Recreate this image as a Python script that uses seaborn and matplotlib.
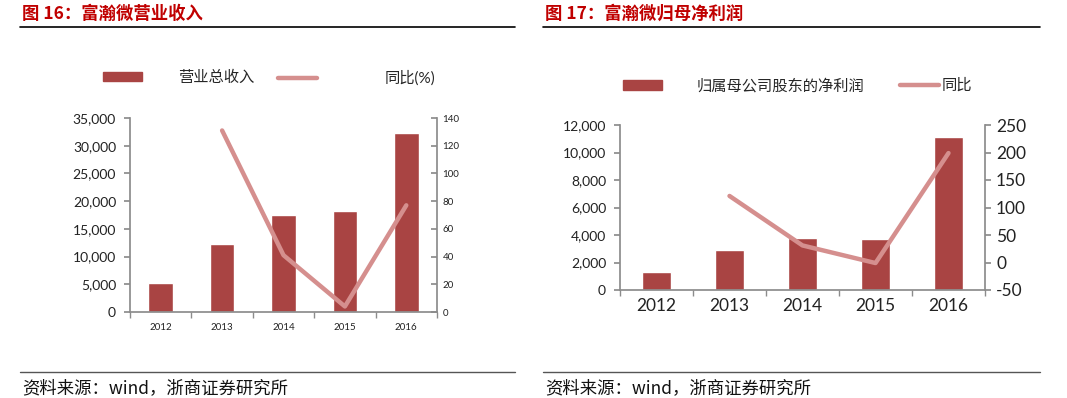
import numpy as np
import pandas as pd
import seaborn as sns
from matplotlib import pyplot as plt
from matplotlib.lines import Line2D
from matplotlib.patches import Patch
from matplotlib.ticker import FuncFormatter, FixedLocator

years = ["2012", "2013", "2014", "2015", "2016"]
revenue = [5250, 12300, 17500, 18150, 32250]
revenue_yoy = [np.nan, 131, 41, 4, 77]
net_profit = [1300, 2900, 3780, 3720, 11150]
profit_yoy = [np.nan, 121, 31, -1, 199]

BAR = "#A94443"
LINE = "#D58F8E"
GRAY = "#8C8C8C"
TITLE_RED = "#C00000"

sns.set_theme(style="white")
plt.rcParams["font.family"] = ["Lato", "Noto Sans CJK SC", "DejaVu Sans"]
plt.rcParams["axes.unicode_minus"] = False

W, H = 1067, 398
fig = plt.figure(figsize=(W / 100, H / 100), dpi=100)


def px_axes(x0, y0, x1, y1):
    return fig.add_axes([x0 / W, (H - y1) / H, (x1 - x0) / W, (y1 - y0) / H])


def style_axes(ax, ax2, lsize, rsize, xsize):
    n = len(years)
    ax.set_xlim(-0.5, n - 0.5)
    for s in ["top", "right"]:
        ax.spines[s].set_visible(False)
    for s in ["top", "left", "bottom"]:
        ax2.spines[s].set_visible(False)
    ax.spines["left"].set_color(GRAY)
    ax.spines["bottom"].set_color(GRAY)
    ax2.spines["right"].set_color(GRAY)
    ax.set_xticks(range(n))
    ax.set_xticklabels(years)
    ax.xaxis.set_minor_locator(FixedLocator(np.arange(-0.5, n, 1.0)))
    ax.tick_params(axis="x", which="major", length=0, labelsize=xsize, pad=8, colors="#222222")
    ax.tick_params(axis="x", which="minor", length=4, color=GRAY, direction="out", bottom=True)
    ax.tick_params(axis="y", length=4, color=GRAY, direction="out", left=True,
                   labelsize=lsize, labelcolor="#222222", pad=6)
    ax2.tick_params(axis="y", length=4, color=GRAY, direction="out", right=True,
                    labelsize=rsize, labelcolor="#222222", pad=4)
    ax.yaxis.set_major_formatter(FuncFormatter(lambda v, p: f"{v:,.0f}"))
    ax.set_xlabel("")
    ax.set_ylabel("")
    ax2.set_xlabel("")
    ax2.set_ylabel("")
    ax.grid(False)
    ax2.grid(False)


def legend_item(ax, handle, label, x, y, textpad):
    leg = ax.legend(handles=[handle], labels=[label], frameon=False,
                    loc="center left", bbox_to_anchor=(x / W, (H - y) / H),
                    bbox_transform=fig.transFigure, fontsize=11, handlelength=2.55,
                    handleheight=0.55, handletextpad=textpad, borderpad=0,
                    borderaxespad=0)
    ax.legend_ = None
    ax.add_artist(leg)


# ---- left panel: revenue
ax1 = px_axes(130, 118, 437, 312)
sns.barplot(x=years, y=revenue, color=BAR, width=0.4, saturation=1, ax=ax1)
ax1.set_ylim(0, 35000)
ax1.set_yticks(range(0, 35001, 5000))
ax1b = ax1.twinx()
sns.lineplot(x=np.arange(len(years)), y=revenue_yoy, color=LINE, linewidth=3.2, ax=ax1b)
ax1b.set_ylim(0, 140)
ax1b.set_yticks(range(0, 141, 20))
style_axes(ax1, ax1b, 10, 7, 7)
ax1b.tick_params(axis="y", direction="in")

legend_item(ax1b, Patch(color=BAR), "营业总收入", 103, 78, 2.35)
legend_item(ax1b, Line2D([], [], color=LINE, lw=3.2), "同比(%)", 278, 78, 4.4)

# ---- right panel: net profit
ax2 = px_axes(620, 125, 985, 290)
sns.barplot(x=years, y=net_profit, color=BAR, width=0.4, saturation=1, ax=ax2)
ax2.set_ylim(0, 12000)
ax2.set_yticks(range(0, 12001, 2000))
ax2b = ax2.twinx()
sns.lineplot(x=np.arange(len(years)), y=profit_yoy, color=LINE, linewidth=3.2, ax=ax2b)
ax2b.set_ylim(-50, 250)
ax2b.set_yticks(range(-50, 251, 50))
style_axes(ax2, ax2b, 10, 12.5, 12.5)
ax2.tick_params(axis="x", which="major", pad=6)

legend_item(ax2b, Patch(color=BAR), "归属母公司股东的净利润", 623, 86, 2.3)
legend_item(ax2b, Line2D([], [], color=LINE, lw=3.2), "同比", 900, 86, 0.15)

# ---- titles, rules and sources
for x0, x1, title in [(22, 515, "图 16：富瀚微营业收入"), (545, 1040, "图 17：富瀚微归母净利润")]:
    fig.text(x0 / W, (H - 14) / H, title, color=TITLE_RED, fontsize=12.5,
             fontweight="bold", va="center", ha="left", family=["Noto Sans CJK SC"])
    fig.add_artist(Line2D([(x0 - 2) / W, x1 / W], [(H - 27) / H] * 2,
                          color="black", lw=1.2))
    fig.add_artist(Line2D([(x0 - 2) / W, x1 / W], [(H - 372) / H] * 2,
                          color="#555555", lw=1.0))
    fig.text(x0 / W, (H - 388) / H, "资料来源：wind，浙商证券研究所", color="#111111",
             fontsize=12.5, va="center", ha="left", family=["Noto Sans CJK SC"])

fig.savefig("out.png", dpi=100, facecolor="white")
